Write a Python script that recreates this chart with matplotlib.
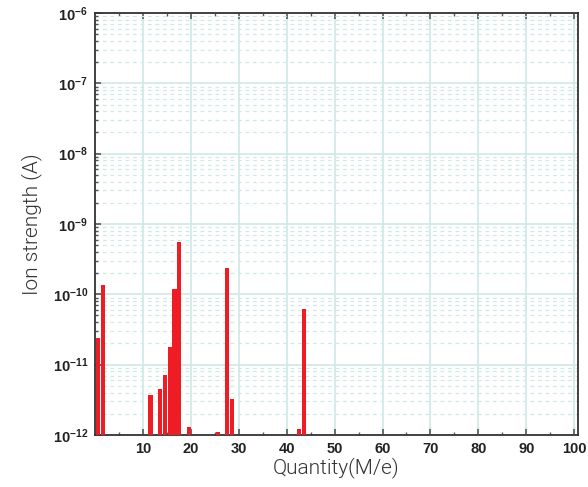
import numpy as np
import matplotlib
matplotlib.use("Agg")
import matplotlib.pyplot as plt
from matplotlib.ticker import LogLocator, FixedLocator, NullFormatter

# mass numbers and ion currents (A)
masses = [1, 2, 12, 14, 15, 16, 17, 18, 20, 26, 28, 29, 43, 44]
currents = [2.4e-11, 1.36e-10, 3.7e-12, 4.5e-12, 7.1e-12, 1.8e-11, 1.2e-10,
            5.5e-10, 1.3e-12, 1.1e-12, 2.4e-10, 3.25e-12, 1.2e-12, 6.2e-11]
xticks = list(range(10, 101, 10))
yexps = list(range(-12, -5))

grid_col = "#cfe9e6"
bar_col = "#ee1c25"

plt.rcParams["font.family"] = ["Liberation Sans", "DejaVu Sans"]
plt.rcParams["mathtext.fontset"] = "custom"
plt.rcParams["mathtext.rm"] = "Liberation Sans"
plt.rcParams["mathtext.bf"] = "Liberation Sans:bold"

fig = plt.figure(figsize=(5.88, 4.87), dpi=100)
ax = fig.add_axes([0.1616, 0.1068, 0.8214, 0.8665])

bottom = 1e-12
ax.bar(np.array(masses) - 0.42, np.array(currents) - bottom, bottom=bottom,
       width=0.85, color=bar_col, zorder=3)

ax.set_yscale("log")
ax.set_ylim(1e-12, 1e-6)
ax.set_xlim(0, 100.8)

ax.set_xticks(xticks)
ax.set_xticklabels([str(t) for t in xticks], fontweight="bold")
ax.xaxis.set_minor_locator(FixedLocator(list(range(5, 100, 10))))
ax.yaxis.set_major_locator(FixedLocator([10.0 ** e for e in yexps]))
ax.yaxis.set_minor_locator(LogLocator(base=10, subs=np.arange(2, 10), numticks=20))
ax.yaxis.set_minor_formatter(NullFormatter())
ax.set_yticklabels([r"$\mathbf{10^{%d}}$" % e for e in yexps])

ax.grid(which="major", color=grid_col, linewidth=1.2, linestyle="-", zorder=0)
ax.grid(which="minor", axis="y", color=grid_col, linewidth=0.9,
        linestyle=(0, (3, 3)), zorder=0)
ax.set_axisbelow(True)

ax.tick_params(which="both", direction="in", top=True, right=False,
               colors="#555555", labelcolor="#222222")
ax.tick_params(which="major", length=4, width=1.2, labelsize=10.5, pad=5)
ax.tick_params(which="minor", length=2.5, width=1)

for s in ax.spines.values():
    s.set_color("#333333")
    s.set_linewidth(1.3)

ax.set_xlabel("Quantity(M/e)", fontsize=15, family="Roboto", fontweight=300,
              color="#333333", labelpad=1)
ax.set_ylabel("Ion strength (A)", fontsize=15, family="Roboto", fontweight=300,
              color="#333333", labelpad=8)

plt.savefig("out.png", dpi=100)
